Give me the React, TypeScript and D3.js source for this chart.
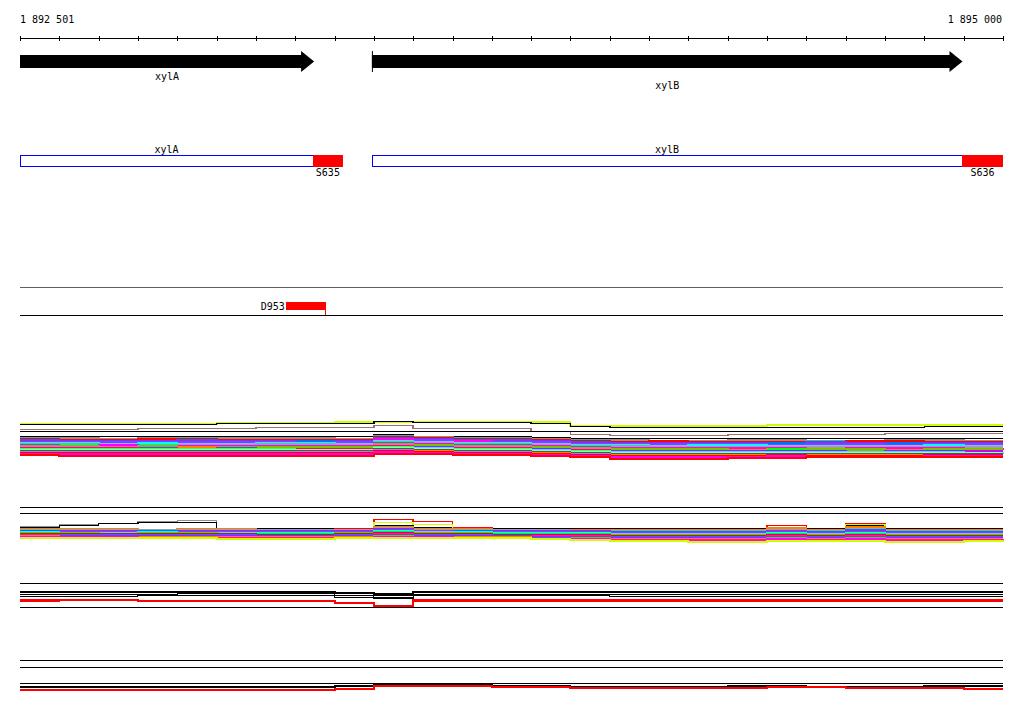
import React from "react";
import * as d3 from "d3";

// ---------- data ----------
const domainStart = 1892500;
const domainEnd = 1895000;
const axisLabels = ["1 892 501", "1 895 000"];
const tickStep = 100;

const geneNames = ["xylA", "xylB"];
const geneStarts = [1892500, 1893395];
const geneEnds = [1893248, 1894897];

const cdsNames = ["xylA", "xylB"];
const cdsStarts = [1892500, 1893395];
const cdsEnds = [1893245, 1894896];
const siteNames = ["S635", "S636"];
const siteStarts = [1893245, 1894896];
const siteEnds = [1893321, 1895000];

const featName = "D953";
const featStart = 1893176;
const featEnd = 1893277;

// profile breakpoints every 100 bp
const profilePos = d3.range(domainStart, domainEnd + 1, tickStep);

type S = { c: string; w: number; v: number[] };
const K = "#000000";

const track1: S[] = [
  { c: "#ccff00", w: 2, v: [8,8,8,8,8,7,7,7,6,6,6,6,6,6,10,10,10,10,10,9,9,9,9,9,9,9] },
  { c: K, w: 1.5, v: [9,9,9,9,9,8,8,8,8,6,7,7,7,8,11,12,12,12,12,12,12,12,12,11,11,11] },
  { c: "#a07070", w: 1.5, v: [14,14,14,13,13,13,12,12,12,10,13,13,13,16,19,20,20,20,19,19,19,19,18,18,18,18] },
  { c: K, w: 1.5, v: [16,16,16,16,16,16,16,16,16,16,16,16,16,16,16,16,16,16,16,16,16,16,16,16,16,16] },
  { c: K, w: 1, v: [21,21,21,21,21,21,21,21,21,19,21,21,21,22,23,23,23,23,23,23,23,23,23,23,23,23] },
  { c: "#909090", w: 2, v: [22,22,23,22,22,22,22,22,23,20,21,22,22,23,24,24,25,25,24,24,25,25,24,24,25,25] },
  { c: "#ff0000", w: 2, v: [23,24,24,23,23,24,24,24,24,21,22,23,23,24,25,26,25,26,26,26,26,25,25,26,26,26] },
  { c: "#0070ff", w: 2, v: [24,25,25,25,24,25,25,25,25,22,23,24,24,25,26,27,27,27,27,27,26,27,27,27,27,27] },
  { c: "#ff00ff", w: 2, v: [26,26,26,26,26,26,26,27,26,23,24,25,26,26,28,28,28,28,28,29,28,28,29,28,28,28] },
  { c: "#00ffff", w: 2, v: [27,27,28,27,28,28,27,27,28,25,26,27,27,28,29,29,30,29,29,30,30,30,30,29,30,30] },
  { c: "#a0a0a0", w: 2, v: [28,28,29,29,29,29,28,28,29,26,27,28,28,29,30,30,31,31,31,31,31,31,31,31,31,31] },
  { c: "#ff00ff", w: 2, v: [29,30,29,30,30,30,30,30,30,27,28,29,29,30,31,32,32,32,32,32,33,32,32,32,33,32] },
  { c: "#00ff00", w: 2, v: [30,30,31,30,31,31,31,31,31,28,29,30,30,31,32,33,33,33,34,33,33,33,34,33,33,33] },
  { c: "#ff8000", w: 2, v: [31,31,31,32,31,32,32,32,32,29,30,31,31,32,33,34,34,34,34,35,34,34,34,34,34,34] },
  { c: "#cc00ff", w: 2, v: [32,32,32,32,33,32,33,33,33,30,31,32,32,33,34,35,35,35,35,35,35,36,35,35,35,35] },
  { c: "#00ffff", w: 2, v: [33,33,33,33,33,33,33,34,34,31,32,33,33,34,35,36,36,36,36,36,36,36,36,36,37,36] },
  { c: "#ccff00", w: 2, v: [34,34,34,34,34,34,34,34,34,32,33,34,34,35,36,37,37,37,37,37,37,37,37,37,37,37] },
  { c: "#0060ff", w: 2, v: [35,35,35,35,35,35,35,35,35,33,34,35,35,36,37,38,38,38,38,38,38,38,38,38,38,38] },
  { c: "#ff8000", w: 2, v: [36,36,36,36,36,36,36,36,36,34,35,36,36,37,38,39,39,39,39,39,39,39,39,39,39,39] },
  { c: "#ff0000", w: 2, v: [37,37,37,37,37,37,37,37,37,35,36,37,37,38,39,40,40,40,40,39,40,40,40,39,39,39] },
  { c: "#ff00ff", w: 2, v: [38,38,38,38,38,38,38,38,38,36,37,38,38,39,40,41,41,41,41,40,41,41,41,40,40,40] },
  { c: "#ff0000", w: 2, v: [39,40,40,40,40,40,40,40,40,38,38,39,39,40,41,43,43,43,42,42,41,41,41,41,41,41] },
];

const track2: S[] = [
  { c: K, w: 1, v: [7,7,7,7,7,7,7,7,7,7,7,7,7,7,7,7,7,7,7,7,7,7,7,7,7,7] },
  { c: K, w: 1, v: [13,13,13,13,13,13,13,13,13,13,13,13,13,13,13,13,13,13,13,13,13,13,13,13,13,13] },
  { c: "#909090", w: 1.5, v: [26,24,23,21,20,28,28,28,28,26,28,28,28,28,28,28,28,28,28,28,28,28,28,28,28,28] },
  { c: K, w: 1.5, v: [27,25,23,22,22,28,28,28,28,25,27,28,28,28,28,28,28,28,28,27,28,25,28,28,28,28] },
  { c: "#ff0000", w: 1.5, v: [29,29,29,29,29,29,29,29,28,19,21,27,29,29,29,29,29,29,29,25,29,23,29,29,29,29] },
  { c: "#ccff00", w: 1.5, v: [29,29,29,29,29,29,29,29,29,22,24,28,29,29,29,29,29,29,29,27,29,24,29,29,29,29] },
  { c: "#ff8000", w: 2, v: [28,28,28,29,28,28,29,29,29,26,28,28,29,29,29,29,29,29,29,27,29,26,29,29,29,29] },
  { c: "#a0a0a0", w: 2, v: [29,29,29,29,29,29,29,29,29,27,29,29,29,29,30,30,30,30,30,29,30,28,30,30,30,30] },
  { c: "#0070ff", w: 2, v: [30,30,30,30,30,30,30,30,30,28,30,30,30,30,30,31,31,31,31,30,31,29,31,31,31,31] },
  { c: "#ff00ff", w: 2, v: [31,31,31,31,31,31,31,31,31,29,30,31,31,31,31,32,32,32,32,31,32,31,32,32,32,32] },
  { c: "#00ffff", w: 2, v: [31,32,32,31,32,32,32,32,32,30,31,31,32,32,32,33,33,33,33,32,33,32,33,33,33,33] },
  { c: "#00ff00", w: 2, v: [32,32,33,32,32,33,33,33,32,31,32,32,33,33,33,34,34,34,34,33,34,33,34,34,34,34] },
  { c: "#ff0000", w: 2, v: [33,33,33,33,33,33,34,34,33,32,33,33,34,34,34,35,35,35,35,34,35,34,35,35,35,35] },
  { c: "#ff00ff", w: 2, v: [34,34,34,34,34,34,35,35,34,33,34,34,35,35,35,36,36,36,36,35,36,35,36,36,36,36] },
  { c: "#0070ff", w: 2, v: [35,35,35,35,35,35,35,35,35,34,35,35,35,36,36,37,37,37,37,36,37,36,37,37,37,37] },
  { c: "#ff8000", w: 2, v: [35,36,36,36,36,36,36,36,36,35,36,36,36,37,37,38,38,38,38,37,38,37,38,38,38,38] },
  { c: "#ff00ff", w: 2, v: [36,36,36,37,37,37,37,37,37,36,36,37,37,37,38,39,39,39,39,38,39,38,39,39,39,38] },
  { c: "#ccff00", w: 2, v: [37,37,37,37,37,38,38,38,37,37,37,37,37,38,39,40,40,41,41,40,40,40,41,41,40,39] },
];

const track3: S[] = [
  { c: K, w: 1, v: [8,8,8,8,8,8,8,8,8,8,8,8,8,8,8,8,8,8,8,8,8,8,8,8,8,8] },
  { c: K, w: 2, v: [16,16,16,16,16,16,16,16,17,18,16,16,16,16,16,16,16,16,16,16,16,16,16,16,16,16] },
  { c: K, w: 1, v: [17,17,17,17,16,17,17,17,18,20,17,17,17,17,17,17,17,17,17,17,17,17,17,17,17,17] },
  { c: K, w: 1, v: [19,19,19,19,18,18,18,18,20,22,19,19,19,19,19,19,19,19,19,19,19,19,19,19,19,19] },
  { c: K, w: 1, v: [21,21,21,20,20,20,20,20,22,23,20,20,20,20,20,21,21,21,21,21,21,21,21,21,21,21] },
  { c: "#ff0000", w: 2, v: [24,24,24,25,25,25,25,25,27,30,24,24,24,24,24,24,24,24,24,24,24,24,24,24,24,24] },
  { c: "#ff0000", w: 1, v: [26,25,25,25,25,25,25,25,28,32,26,26,26,26,26,26,26,26,26,26,26,26,26,26,26,26] },
  { c: K, w: 1, v: [32,32,32,32,32,32,32,32,32,32,32,32,32,32,32,32,32,32,32,32,32,32,32,32,32,32] },
];

const track4: S[] = [
  { c: K, w: 1, v: [5,5,5,5,5,5,5,5,5,5,5,5,5,5,5,5,5,5,5,5,5,5,5,5,5,5] },
  { c: K, w: 1, v: [12,12,12,12,12,12,12,12,12,12,12,12,12,12,12,12,12,12,12,12,12,12,12,12,12,12] },
  { c: K, w: 1, v: [28,28,28,28,28,28,28,28,28,28,28,28,28,28,28,28,28,28,28,28,28,28,28,28,28,28] },
  { c: K, w: 2, v: [31,31,31,31,31,31,31,31,30,29,29,29,30,30,31,31,31,31,30,30,31,31,31,30,30,30] },
  { c: "#ff0000", w: 2, v: [34,34,34,34,34,34,34,34,33,30,30,30,31,31,32,32,32,32,32,31,31,32,32,32,33,33] },
];

// ---------- layout ----------
const W = 1024, H = 714;
const trackTops = [415, 500, 575, 655];
const font = "DejaVu Sans Mono, monospace";

export default function App() {
  const x = d3.scaleLinear().domain([domainStart, domainEnd]).range([20, 1003]);
  const ticks = d3.range(domainStart, domainEnd + 1, tickStep);
  const tracks = [track1, track2, track3, track4];

  const renderTrack = (series: S[], top: number, ti: number) => {
    const y = d3.scaleLinear().domain([0, 50]).range([top, top + 50]);
    const line = d3
      .line<number>()
      .x((_, i) => x(profilePos[i]))
      .y((d) => Math.round(y(d)) + 0.5)
      .curve(d3.curveStepAfter);
    return (
      <g key={ti}>
        {series.map((s, i) => (
          <path key={i} d={line(s.v) || ""} fill="none" stroke={s.c} strokeWidth={s.w} shapeRendering="crispEdges" />
        ))}
      </g>
    );
  };

  const headW = 13;
  return (
    <svg width={W} height={H} style={{ position: "absolute", left: 0, top: 0, background: "#fff" }} fontFamily={font} fontSize={10}>
      <rect width={W} height={H} fill="#fff" />
      {/* axis */}
      <text x={20} y={23} fill="#000">{axisLabels[0]}</text>
      <text x={1002} y={23} fill="#000" textAnchor="end">{axisLabels[1]}</text>
      <line x1={x(domainStart)} x2={x(domainEnd)} y1={38.5} y2={38.5} stroke="#000" shapeRendering="crispEdges" />
      {ticks.map((t) => (
        <line key={t} x1={Math.round(x(t)) + 0.5} x2={Math.round(x(t)) + 0.5} y1={36} y2={41} stroke="#000" shapeRendering="crispEdges" />
      ))}

      {/* gene arrows */}
      {geneNames.map((g, i) => {
        const x0 = x(geneStarts[i]);
        const x1 = x(geneEnds[i]);
        const p = `M${x0},55 L${x1 - headW},55 L${x1 - headW},51 L${x1},61.5 L${x1 - headW},72 L${x1 - headW},68 L${x0},68 Z`;
        return (
          <g key={g}>
            <path d={p} fill="#000" />
            {i === 1 && <line x1={x0 + 0.5} x2={x0 + 0.5} y1={51} y2={72} stroke="#000" />}
            <text x={(x0 + x1) / 2} y={i === 0 ? 80 : 89} textAnchor="middle" fill="#000">{g}</text>
          </g>
        );
      })}

      {/* CDS boxes + sites */}
      {cdsNames.map((g, i) => {
        const x0 = x(cdsStarts[i]);
        const x1 = x(cdsEnds[i]);
        const s0 = x(siteStarts[i]);
        const s1 = x(siteEnds[i]);
        return (
          <g key={g}>
            <rect x={x0 + 0.5} y={155.5} width={x1 - x0} height={11} fill="#fff" stroke="#0000ff" shapeRendering="crispEdges" />
            <rect x={s0} y={155} width={s1 - s0} height={12} fill="#ff0000" shapeRendering="crispEdges" />
            <text x={(x0 + x1) / 2} y={153} textAnchor="middle" fill="#000">{g}</text>
            <text x={(s0 + s1) / 2} y={176} textAnchor="middle" fill="#000">{siteNames[i]}</text>
          </g>
        );
      })}

      {/* D953 feature track */}
      <line x1={20} x2={1003} y1={287.5} y2={287.5} stroke="#606060" shapeRendering="crispEdges" />
      <line x1={20} x2={1003} y1={315.5} y2={315.5} stroke="#000" shapeRendering="crispEdges" />
      <rect x={x(featStart)} y={302} width={x(featEnd) - x(featStart)} height={8} fill="#ff0000" shapeRendering="crispEdges" />
      <line x1={Math.round(x(featEnd)) - 0.5} x2={Math.round(x(featEnd)) - 0.5} y1={310} y2={315} stroke="#ff0000" shapeRendering="crispEdges" />
      <text x={x(featStart) - 1} y={310} textAnchor="end" fill="#000">{featName}</text>

      {tracks.map((t, i) => renderTrack(t, trackTops[i], i))}
    </svg>
  );
}
